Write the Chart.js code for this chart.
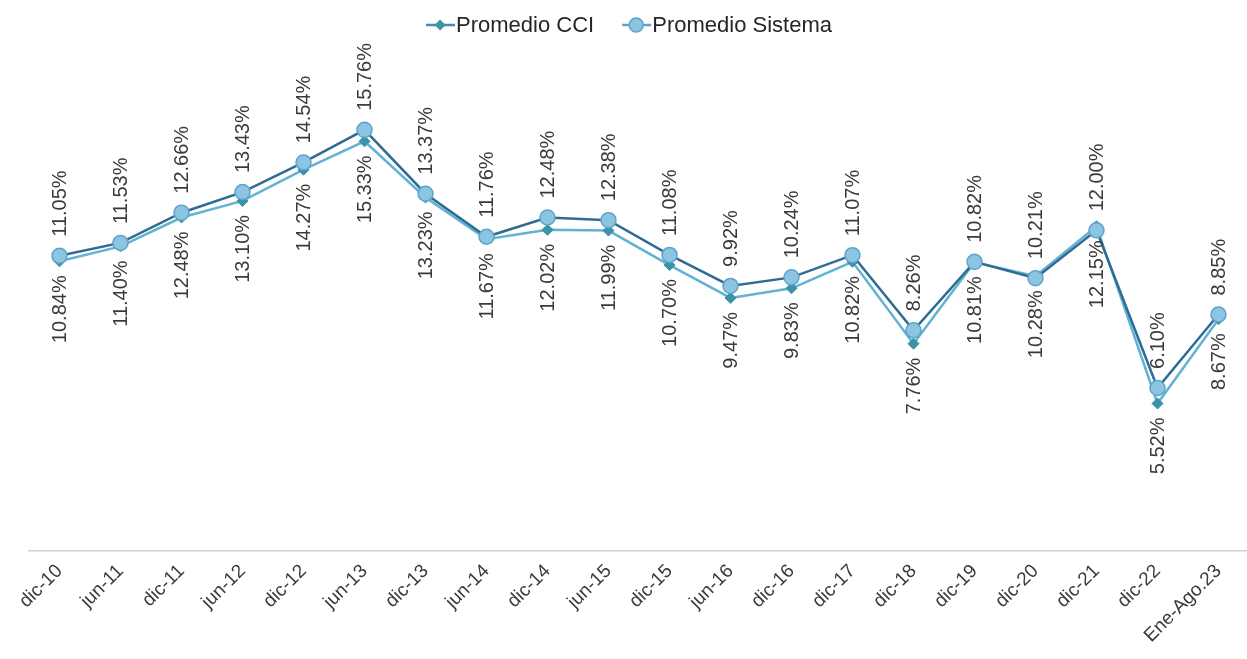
<!DOCTYPE html>
<html>
<head>
<meta charset="utf-8">
<script src="https://cdn.jsdelivr.net/npm/chart.js@4/dist/chart.umd.min.js"></script>
<style>
  html, body { margin: 0; padding: 0; background: #fff; overflow: hidden; }
  #wrap { width: 1247px; height: 659px; overflow: hidden; }
</style>
</head>
<body>
<div id="wrap"><canvas id="chart" width="1258" height="659"></canvas></div>
<script>
// periods on the x axis
const periods = ['dic-10', 'jun-11', 'dic-11', 'jun-12', 'dic-12', 'jun-13', 'dic-13', 'jun-14', 'dic-14', 'jun-15',
    'dic-15', 'jun-16', 'dic-16', 'dic-17', 'dic-18', 'dic-19', 'dic-20', 'dic-21', 'dic-22', 'Ene-Ago.23'];
const promedioCCI = [10.84, 11.40, 12.48, 13.10, 14.27, 15.33, 13.23, 11.67, 12.02, 11.99,
    10.70, 9.47, 9.83, 10.82, 7.76, 10.81, 10.28, 12.15, 5.52, 8.67];
const promedioSistema = [11.05, 11.53, 12.66, 13.43, 14.54, 15.76, 13.37, 11.76, 12.48, 12.38,
    11.08, 9.92, 10.24, 11.07, 8.26, 10.82, 10.21, 12.00, 6.10, 8.85];

const FONT = '"Liberation Sans", Arial, sans-serif';
const TEXT = '#3a3a3a';

const cciLine = '#62b2d4';
const cciMarker = '#3a93a6';
const sisLine = '#2f6c93';
const sisFill = '#8cc5e2';
const sisBorder = '#5fa3c9';

// value labels, rotated, CCI below and Sistema above each point
const valueLabels = {
    id: 'valueLabels',
    afterDatasetsDraw(chart) {
        const ctx = chart.ctx;
        ctx.save();
        ctx.font = '20px ' + FONT;
        ctx.fillStyle = TEXT;
        ctx.textBaseline = 'middle';
        chart.data.datasets.forEach((ds, i) => {
            const meta = chart.getDatasetMeta(i);
            meta.data.forEach((pt, j) => {
                const txt = ds.data[j].toFixed(2) + '%';
                ctx.save();
                if (ds.label === 'Promedio Sistema') {
                    ctx.translate(pt.x + 1, pt.y - 19);
                    ctx.rotate(-Math.PI / 2);
                    ctx.textAlign = 'left';
                } else {
                    ctx.translate(pt.x + 1, pt.y + 14);
                    ctx.rotate(-Math.PI / 2);
                    ctx.textAlign = 'right';
                }
                ctx.fillText(txt, 0, 0);
                ctx.restore();
            });
        });
        ctx.restore();
    }
};

// legend with line + marker swatches
const lineLegend = {
    id: 'lineLegend',
    afterDraw(chart) {
        const ctx = chart.ctx;
        const y = 25;
        ctx.save();
        ctx.font = '22px ' + FONT;
        ctx.textBaseline = 'middle';
        const items = [
            { label: 'Promedio CCI', kind: 'diamond' },
            { label: 'Promedio Sistema', kind: 'circle' }
        ];
        const sw = 34, gap = 24;
        let total = 0;
        items.forEach(it => { it.w = ctx.measureText(it.label).width; total += sw + it.w; });
        total += gap;
        let x = 627 - total / 2;
        items.forEach(it => {
            ctx.strokeStyle = it.kind === 'diamond' ? cciMarker : sisBorder;
            ctx.lineWidth = 2.5;
            ctx.beginPath();
            ctx.moveTo(x + 4, y);
            ctx.lineTo(x + sw - 1, y);
            ctx.stroke();
            const cx = x + sw / 2 + 1;
            ctx.beginPath();
            if (it.kind === 'diamond') {
                ctx.fillStyle = cciMarker;
                ctx.moveTo(cx, y - 5.5); ctx.lineTo(cx + 5.5, y); ctx.lineTo(cx, y + 5.5); ctx.lineTo(cx - 5.5, y);
                ctx.closePath();
                ctx.fill();
            } else {
                ctx.fillStyle = sisFill;
                ctx.arc(cx, y, 7, 0, Math.PI * 2);
                ctx.fill();
                ctx.lineWidth = 1.5;
                ctx.stroke();
            }
            ctx.fillStyle = '#262626';
            ctx.fillText(it.label, x + sw, y + 1);
            x += sw + it.w + gap;
        });
        ctx.restore();
    }
};

new Chart(document.getElementById('chart'), {
    type: 'line',
    data: {
        labels: periods,
        datasets: [
            {
                label: 'Promedio CCI',
                data: promedioCCI,
                borderColor: cciLine,
                borderWidth: 2.5,
                pointStyle: 'rectRot',
                pointRadius: 5.5,
                pointBackgroundColor: cciMarker,
                pointBorderColor: cciMarker,
                pointBorderWidth: 1,
                tension: 0,
                order: 1
            },
            {
                label: 'Promedio Sistema',
                data: promedioSistema,
                borderColor: sisLine,
                borderWidth: 2.5,
                pointStyle: 'circle',
                pointRadius: 7.5,
                pointBackgroundColor: sisFill,
                pointBorderColor: sisBorder,
                pointBorderWidth: 1.5,
                tension: 0,
                order: 0
            }
        ]
    },
    options: {
        responsive: false,
        animation: false,
        layout: { padding: { top: 70, left: 29, right: 0, bottom: 0 } },
        plugins: {
            legend: { display: false },
            tooltip: { enabled: false }
        },
        scales: {
            x: {
                offset: true,
                grid: { display: false, drawTicks: false },
                border: { display: true, color: '#cfcfcf', width: 1.5 },
                ticks: {
                    color: TEXT,
                    font: { family: FONT, size: 19 },
                    minRotation: 45,
                    maxRotation: 45,
                    padding: 9,
                    autoSkip: false
                },
                afterFit(scale) {
                    scale.height = 108;
                    scale.paddingLeft = 0;
                    scale.paddingRight = 0;
                }
            },
            y: {
                display: false,
                min: 0,
                max: 18
            }
        }
    },
    plugins: [valueLabels, lineLegend]
});
</script>
</body>
</html>
